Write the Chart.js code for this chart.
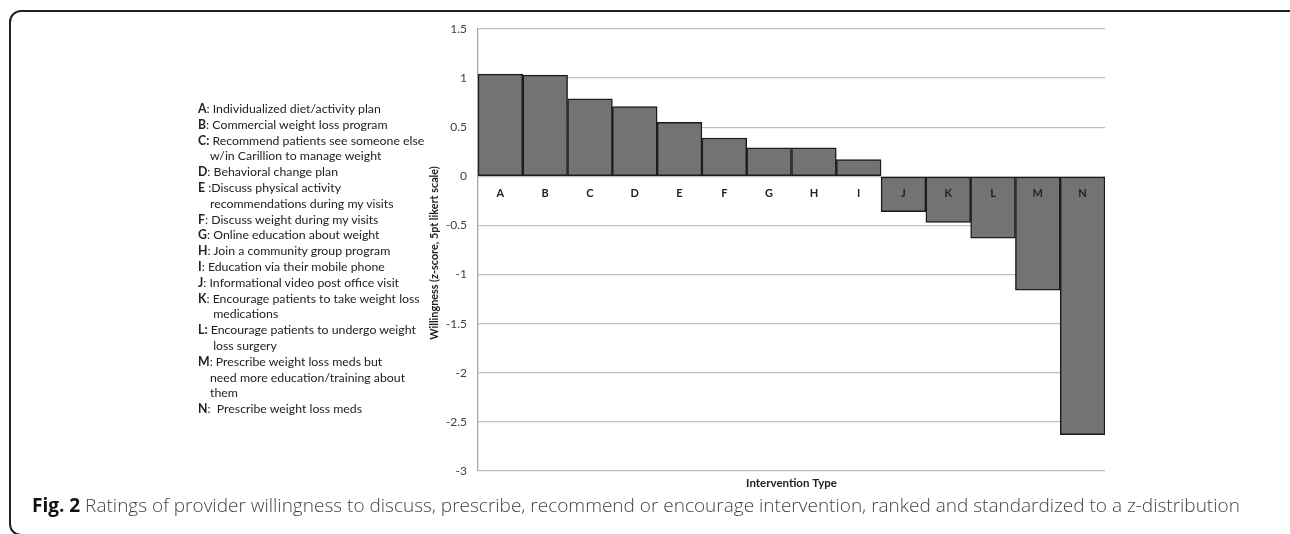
<!DOCTYPE html>
<html>
<head>
<meta charset="utf-8">
<script src="https://cdn.jsdelivr.net/npm/chart.js@4.4.1/dist/chart.umd.min.js"></script>
<style>
  html, body { margin: 0; padding: 0; background: #fff; }
  #wrap { position: relative; width: 1290px; height: 534px; overflow: hidden; }
  #frame { position: absolute; left: 9px; top: 10px; width: 1290px; height: 522px;
           border: 2px solid #222; border-radius: 12px; }
  #chart { position: absolute; left: 0; top: 0; }
  #legend { position: absolute; left: 198px; top: 101px; font-family: Lato, sans-serif;
            font-size: 12.3px; line-height: 15.8px; color: #222; white-space: pre; }
  #legend b { font-weight: bold; }
  #legend .ind { padding-left: 12px; }
  #caption { position: absolute; left: 32px; top: 492px; font-family: "Open Sans", sans-serif;
             font-size: 19px; color: #444; font-weight: 300; white-space: nowrap; }
  #caption b { color: #111; font-weight: 700; }
</style>
</head>
<body>
<div id="wrap">
  <div id="frame"></div>
  <canvas id="chart" width="1290" height="534"></canvas>
  <div id="legend"></div>
  <div id="caption"><b>Fig. 2</b> Ratings of provider willingness to discuss, prescribe, recommend or encourage intervention, ranked and standardized to a z-distribution</div>
</div>
<script>
// data
const categories = ["A", "B", "C", "D", "E", "F", "G", "H", "I", "J", "K", "L", "M", "N"];
const willingness = [1.04, 1.03, 0.79, 0.71, 0.55, 0.39, 0.29, 0.29, 0.17, -0.36, -0.47, -0.63, -1.16, -2.63];
const yTicks = [1.5, 1, 0.5, 0, -0.5, -1, -1.5, -2, -2.5, -3];
const legendLines = [
  ["A", ": Individualized diet/activity plan"],
  ["B", ": Commercial weight loss program"],
  ["C:", " Recommend patients see someone else"],
  [null, "w/in Carillion to manage weight"],
  ["D", ": Behavioral change plan"],
  ["E", " :Discuss physical activity"],
  [null, "recommendations during my visits"],
  ["F", ": Discuss weight during my visits"],
  ["G", ": Online education about weight"],
  ["H", ": Join a community group program"],
  ["I", ": Education via their mobile phone"],
  ["J", ": Informational video post office visit"],
  ["K", ": Encourage patients to take weight loss"],
  [null, " medications"],
  ["L:", " Encourage patients to undergo weight"],
  [null, " loss surgery"],
  ["M", ": Prescribe weight loss meds but"],
  [null, "need more education/training about"],
  [null, "them"],
  ["N", ":  Prescribe weight loss meds"]
];

// legend text
const legendEl = document.getElementById("legend");
legendLines.forEach(([key, text]) => {
  const div = document.createElement("div");
  if (key) {
    const b = document.createElement("b");
    b.textContent = key;
    div.appendChild(b);
  } else {
    div.className = "ind";
  }
  div.appendChild(document.createTextNode(text));
  legendEl.appendChild(div);
});

// letters on the zero line + axis titles
const annotate = {
  id: "annotate",
  afterDatasetsDraw(chart) {
    const { ctx, chartArea, scales } = chart;
    const zeroY = scales.y.getPixelForValue(0);
    ctx.save();
    ctx.fillStyle = "#222";
    ctx.textAlign = "center";
    ctx.textBaseline = "middle";
    ctx.font = "bold 11px Lato, sans-serif";
    categories.forEach((c, i) => {
      ctx.fillText(c, scales.x.getPixelForValue(i), zeroY + 17);
    });
    ctx.font = "bold 11.5px Lato, sans-serif";
    ctx.fillText("Intervention Type", (chartArea.left + chartArea.right) / 2, chartArea.bottom + 12);
    ctx.font = "bold 10.8px Lato, sans-serif";
    ctx.translate(435, 253);
    ctx.rotate(-Math.PI / 2);
    ctx.fillText("Willingness (z-score, 5pt likert scale)", 0, 0);
    ctx.restore();
  }
};

new Chart(document.getElementById("chart").getContext("2d"), {
  type: "bar",
  data: {
    labels: categories,
    datasets: [{
      data: willingness,
      backgroundColor: "#737373",
      borderColor: "#1c1c1c",
      borderWidth: 1.5,
      borderSkipped: false,
      barPercentage: 1,
      categoryPercentage: 1
    }]
  },
  options: {
    responsive: false,
    animation: false,
    layout: { padding: { left: 422, top: 29, right: 185, bottom: 63 } },
    plugins: { legend: { display: false }, tooltip: { enabled: false } },
    scales: {
      x: { display: false },
      y: {
        min: -3,
        max: 1.5,
        afterFit(scale) {
          scale.width = 56;
          scale.paddingTop = 0;
          scale.paddingBottom = 0;
        },
        afterBuildTicks(scale) {
          scale.ticks = yTicks.map(v => ({ value: v }));
        },
        ticks: {
          padding: 11,
          color: "#404040",
          font: { family: "Lato, sans-serif", size: 12 },
          callback: v => String(v)
        },
        grid: { color: "#bfbfbf", lineWidth: 1.3, drawTicks: false },
        border: { color: "#a8a8a8", width: 1.3 }
      }
    }
  },
  plugins: [annotate]
});
</script>
</body>
</html>
